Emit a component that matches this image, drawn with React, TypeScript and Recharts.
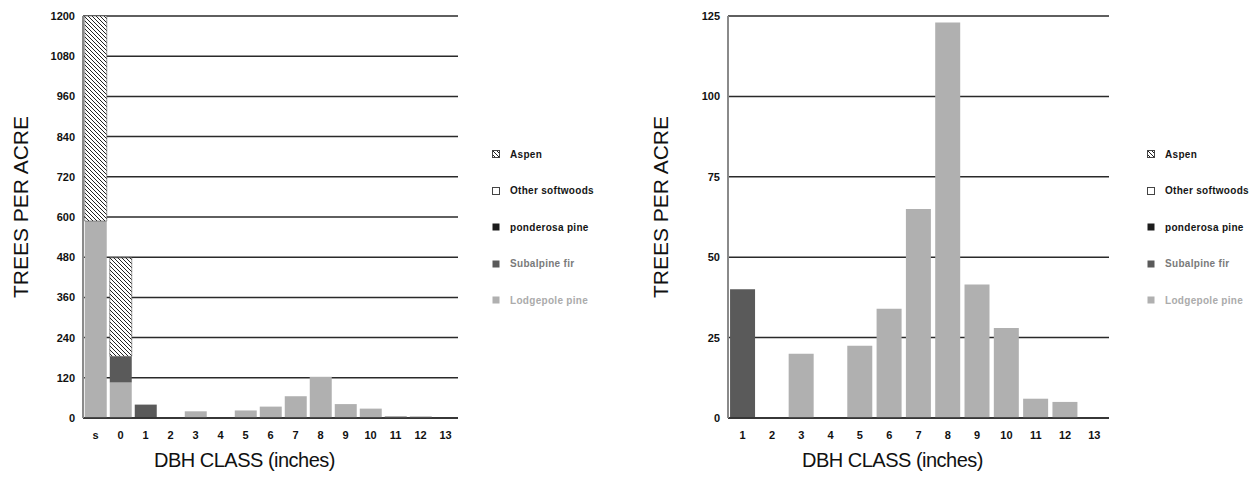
import React from 'react';
import { BarChart, Bar, XAxis, YAxis, CartesianGrid } from 'recharts';

// DBH classes (left chart includes seedlings "s")
const classesAll = ['s', '0', '1', '2', '3', '4', '5', '6', '7', '8', '9', '10', '11', '12', '13'];
const lodgepole = [588, 106, 0, 0, 20, 0, 22.5, 34, 65, 123, 41.5, 28, 6, 5, 0];
const subalpine = [0, 78, 40, 0, 0, 0, 0, 0, 0, 0, 0, 0, 0, 0, 0];
const ponderosa = [0, 0, 0, 0, 0, 0, 0, 0, 0, 0, 0, 0, 0, 0, 0];
const otherSoft = [0, 0, 0, 0, 0, 0, 0, 0, 0, 0, 0, 0, 0, 0, 0];
const aspen = [612, 294, 0, 0, 0, 0, 0, 0, 0, 0, 0, 0, 0, 0, 0];

const leftTicks = [0, 120, 240, 360, 480, 600, 720, 840, 960, 1080, 1200];
const rightTicks = [0, 25, 50, 75, 100, 125];

const FONT = '"Liberation Sans", Arial, Helvetica, sans-serif';

const COLORS = {
    lodgepole: '#b0b0b0',
    subalpine: '#5a5a5a',
    ponderosa: '#1c1c1c',
    otherSoft: '#ffffff',
    aspen: 'url(#hatch)',
};

const rows = classesAll.map((c, i) => ({
    cls: c,
    lodgepole: lodgepole[i],
    subalpine: subalpine[i],
    ponderosa: ponderosa[i],
    otherSoft: otherSoft[i],
    aspen: aspen[i],
}));
const rightRows = rows.slice(2);

const legendItems = [
    { name: 'Aspen', key: 'aspen', text: '#151515' },
    { name: 'Other softwoods', key: 'otherSoft', text: '#151515' },
    { name: 'ponderosa pine', key: 'ponderosa', text: '#151515' },
    { name: 'Subalpine fir', key: 'subalpine', text: '#7a7a7a' },
    { name: 'Lodgepole pine', key: 'lodgepole', text: '#ababab' },
];

const HatchDefs = ({ id }: { id: string }) => (
    <defs>
        <pattern id={id} width="4" height="4" patternUnits="userSpaceOnUse">
            <rect width="4" height="4" fill="#fff" />
            <path d="M-1,-1 L5,5 M-1,3 L1,5 M3,-1 L5,1" stroke="#222" strokeWidth="1" />
        </pattern>
    </defs>
);

const LegendBox = ({ left }: { left: number }) => (
    <div style={{ position: 'absolute', left, top: 136, fontFamily: FONT }}>
        {legendItems.map((it) => (
            <div key={it.key} style={{ display: 'flex', alignItems: 'center', height: 36.5 }}>
                <svg width={8} height={8} style={{ marginRight: 10 }}>
                    <HatchDefs id={'lg' + it.key} />
                    <rect
                        x={0.5}
                        y={0.5}
                        width={7}
                        height={7}
                        fill={it.key === 'aspen' ? `url(#lg${it.key})` : (COLORS as any)[it.key]}
                        stroke={it.key === 'aspen' || it.key === 'otherSoft' ? '#444' : 'none'}
                        strokeWidth={1}
                    />
                </svg>
                <span style={{ fontSize: 10, fontWeight: 'bold', color: it.text, letterSpacing: 0.3 }}>{it.name}</span>
            </div>
        ))}
    </div>
);

const YTitle = () => (
    <text
        x={28}
        y={207}
        transform="rotate(-90, 28, 207)"
        textAnchor="middle"
        fontFamily={FONT}
        fontSize={21}
        fill="#111"
    >
        TREES PER ACRE
    </text>
);

const XTitle = (props: any) => {
    const vb = props.viewBox;
    const cx = vb.x + vb.width / 2 - 26;
    return (
        <text x={cx} y={467} textAnchor="middle" fontFamily={FONT} fontSize={20} fill="#111" letterSpacing={-0.5}>
            DBH CLASS (inches)
        </text>
    );
};

const tickStyle = { fontSize: 11, fontWeight: 'bold', fill: '#111', fontFamily: FONT };

const series = ['lodgepole', 'subalpine', 'ponderosa', 'otherSoft', 'aspen'];

const Panel = ({ data, width, yWidth, rightMargin, domain, ticks }: any) => (
    <BarChart
        width={width}
        height={484}
        data={data}
        margin={{ top: 16, right: rightMargin, bottom: 36, left: 0 }}
        barCategoryGap="7%"
    >
        <HatchDefs id="hatch" />
        <CartesianGrid vertical={false} stroke="#2a2a2a" strokeWidth={1.5} />
        <XAxis
            dataKey="cls"
            height={30}
            tick={tickStyle}
            tickLine={false}
            tickSize={0}
            tickMargin={13}
            axisLine={{ stroke: '#2a2a2a', strokeWidth: 1.5 }}
            interval={0}
            label={<XTitle />}
        />
        <YAxis
            width={yWidth}
            domain={domain}
            ticks={ticks}
            allowDataOverflow
            tick={tickStyle}
            tickLine={false}
            tickSize={0}
            tickMargin={8}
            axisLine={{ stroke: '#8a8a8a', strokeWidth: 2 }}
            label={<YTitle />}
        />
        {series.map((k) => (
            <Bar
                key={k}
                dataKey={k}
                stackId="a"
                fill={(COLORS as any)[k]}
                stroke={k === 'aspen' ? '#555' : 'none'}
                strokeWidth={0.6}
                isAnimationActive={false}
            />
        ))}
    </BarChart>
);

export default function App() {
    return (
        <div style={{ position: 'absolute', left: 0, top: 0, width: 1259, height: 484, background: '#fff' }}>
            <div style={{ position: 'absolute', left: 0, top: 0 }}>
                <Panel data={rows} width={640} yWidth={83} rightMargin={182} domain={[0, 1200]} ticks={leftTicks} />
            </div>
            <LegendBox left={492} />
            <div style={{ position: 'absolute', left: 640, top: 0 }}>
                <Panel data={rightRows} width={619} yWidth={88} rightMargin={150} domain={[0, 125]} ticks={rightTicks} />
            </div>
            <LegendBox left={1147} />
        </div>
    );
}
